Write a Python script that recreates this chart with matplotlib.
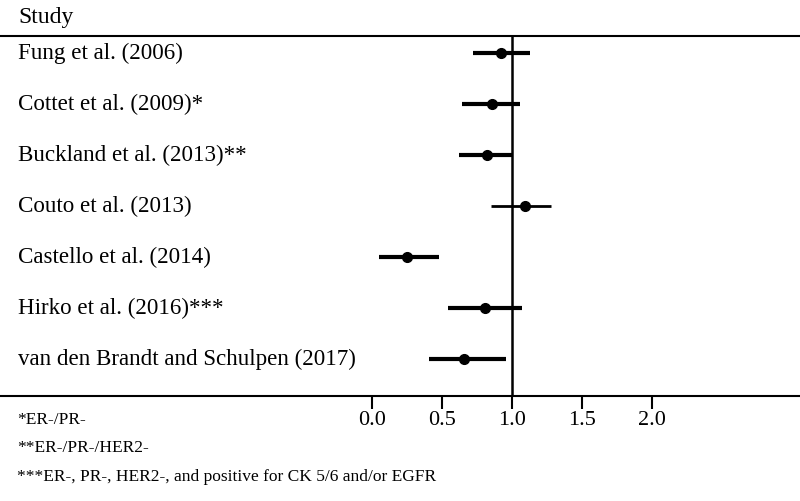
import matplotlib
matplotlib.use("Agg")
import matplotlib.pyplot as plt
import matplotlib.transforms as mtransforms

studies = ["Fung et al. (2006)", "Cottet et al. (2009)*", "Buckland et al. (2013)**",
           "Couto et al. (2013)", "Castello et al. (2014)", "Hirko et al. (2016)***",
           "van den Brandt and Schulpen (2017)"]
estimate = [0.92, 0.86, 0.82, 1.09, 0.25, 0.81, 0.66]
ci_low = [0.72, 0.64, 0.62, 0.85, 0.05, 0.54, 0.41]
ci_high = [1.13, 1.06, 1.01, 1.28, 0.48, 1.07, 0.96]
tick_values = [0.0, 0.5, 1.0, 1.5, 2.0]
tick_labels = ["0.0", "0.5", "1.0", "1.5", "2.0"]
footnotes = ["*ER-/PR-", "**ER-/PR-/HER2-", "***ER-, PR-, HER2-, and positive for CK 5/6 and/or EGFR"]

W, H = 800, 501
plt.rcParams['font.family'] = ['Liberation Serif', 'DejaVu Serif']
fig = plt.figure(figsize=(W / 100, H / 100), dpi=100)

top_px, bot_px = 36, 396
ax = fig.add_axes([0, 1 - bot_px / H, 1, (bot_px - top_px) / H])
x0_px, unit_px = 372, 140
ax.set_xlim(-x0_px / unit_px, (W - x0_px) / unit_px)
row0_px, row_step = 53, 51
ax.set_ylim((bot_px - row0_px) / row_step, -(row0_px - top_px) / row_step)

for i in range(len(studies)):
    lw = 2.0 if i == 3 else 3.0
    ax.plot([ci_low[i], ci_high[i]], [i, i], color='black', lw=lw, solid_capstyle='butt')
    ax.plot(estimate[i], i, 'o', color='black', ms=7)

ax.axvline(1.0, color='black', lw=1.8)

for s in ['left', 'right']:
    ax.spines[s].set_visible(False)
for s in ['top', 'bottom']:
    ax.spines[s].set_linewidth(1.5)
ax.set_yticks([])
ax.set_xticks(tick_values)
ax.set_xticklabels(tick_labels, fontsize=16)
ax.tick_params(axis='x', direction='out', length=9, width=1.5, pad=2)

trans = mtransforms.blended_transform_factory(fig.transFigure, ax.transData)
for i, s in enumerate(studies):
    ax.text(18 / W, i, s, transform=trans, ha='left', va='center', fontsize=16.6)

fig.text(18 / W, 1 - 17 / H, "Study", ha='left', va='center', fontsize=17)
footnote_y = [420, 448, 477]
for j, f in enumerate(footnotes):
    fig.text(17 / W, 1 - footnote_y[j] / H, f, ha='left', va='center', fontsize=12.5)

fig.savefig("out.png", dpi=100)
